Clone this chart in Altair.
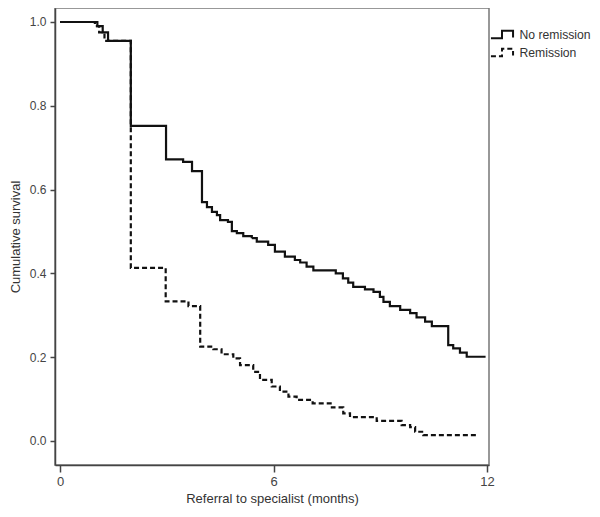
import altair as alt
import pandas as pd

# No remission (solid) Kaplan-Meier steps
times_nr = [0, 1.05, 1.2, 1.35, 1.99, 2.98, 3.46, 3.71, 3.99, 4.13, 4.27, 4.41, 4.50, 4.72, 4.83,
            4.97, 5.15, 5.39, 5.53, 5.85, 6.04, 6.32, 6.60, 6.75, 6.93, 7.12, 7.75, 7.95, 8.10, 8.24,
            8.57, 8.81, 8.99, 9.09, 9.27, 9.56, 9.84, 10.02, 10.26, 10.45, 10.91, 11.05, 11.24, 11.43, 11.96]
surv_nr = [1.0, 0.99, 0.975, 0.955, 0.752, 0.672, 0.666, 0.644, 0.570, 0.558, 0.547, 0.539, 0.527, 0.523, 0.501,
           0.496, 0.489, 0.484, 0.476, 0.468, 0.452, 0.440, 0.432, 0.426, 0.416, 0.407, 0.400, 0.388, 0.378, 0.368,
           0.362, 0.356, 0.344, 0.332, 0.322, 0.313, 0.305, 0.295, 0.285, 0.274, 0.229, 0.221, 0.211, 0.201, 0.201]

# Remission (dashed) Kaplan-Meier steps
times_r = [0, 0.98, 1.1, 1.25, 1.99, 2.97, 3.61, 3.94, 4.31, 4.54, 4.87, 5.06, 5.43, 5.62, 5.95,
           6.18, 6.42, 6.65, 7.1, 7.64, 7.96, 8.15, 8.90, 9.60, 9.84, 9.98, 10.21, 11.71]
surv_r = [1.0, 0.99, 0.975, 0.955, 0.413, 0.333, 0.322, 0.225, 0.219, 0.207, 0.197, 0.181, 0.165, 0.146, 0.130,
          0.118, 0.106, 0.098, 0.090, 0.080, 0.066, 0.057, 0.048, 0.038, 0.033, 0.022, 0.014, 0.014]

groups = ["No remission", "Remission"]
x_ticks = [0, 6, 12]
y_ticks = [0.0, 0.2, 0.4, 0.6, 0.8, 1.0]

df = pd.concat([
    pd.DataFrame({"t": times_nr, "s": surv_nr, "g": groups[0], "o": range(len(times_nr))}),
    pd.DataFrame({"t": times_r, "s": surv_r, "g": groups[1], "o": range(len(times_r))}),
])

FONT = "Liberation Sans"
step_path = "M-1.3,0.45L0,0.45L0,-0.45L1.3,-0.45L1.3,0.35"

chart = alt.Chart(df).mark_line(interpolate="step-after", color="#111", strokeWidth=2.2).encode(
    x=alt.X("t:Q", scale=alt.Scale(domain=[-0.1405, 12.056], nice=False, zero=False),
            axis=alt.Axis(values=x_ticks, format="d", title="Referral to specialist (months)",
                          labelFontSize=13, tickSize=7, labelPadding=3, titlePadding=4)),
    y=alt.Y("s:Q", scale=alt.Scale(domain=[-0.0573, 1.0334], nice=False, zero=False),
            axis=alt.Axis(values=y_ticks, format=".1f", title="Cumulative survival",
                          labelFontSize=12, tickSize=5, labelPadding=4, titlePadding=7)),
    strokeDash=alt.StrokeDash("g:N", scale=alt.Scale(domain=groups, range=[[1, 0], [5, 3]]),
                              legend=alt.Legend(title=None, orient="none", legendX=437.5, legendY=17,
                                                symbolType=step_path, symbolSize=289,
                                                symbolStrokeWidth=2, symbolStrokeColor="#111",
                                                symbolFillColor="transparent",
                                                labelFontSize=12.2, labelFont=FONT, labelColor="#333",
                                                labelOffset=8, labelLimit=200, rowPadding=0, padding=0)),
    order="o:Q",
).properties(
    width=434, height=457,
    padding={"left": 47, "top": 0, "right": 103, "bottom": 41},
    autosize=alt.AutoSizeParams(type="none"),
    background="white",
).configure_view(
    stroke="#777", strokeWidth=1.5
).configure_axis(
    grid=False, domainColor="#444", domainWidth=1.5, tickColor="#444", tickWidth=1.5,
    labelColor="#444", labelFont=FONT, titleFont=FONT, titleFontSize=13,
    titleFontWeight="normal", titleColor="#333"
)

chart.save("out.html", embed_options={"renderer": "svg", "actions": False})
